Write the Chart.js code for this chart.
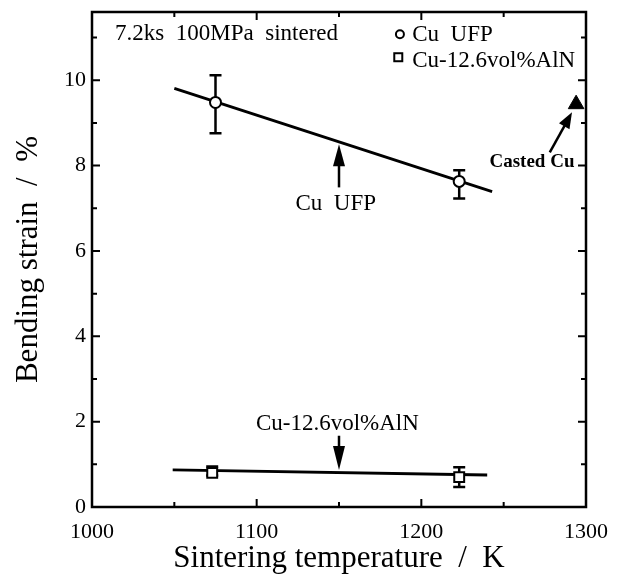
<!DOCTYPE html>
<html>
<head>
<meta charset="utf-8">
<script src="https://cdn.jsdelivr.net/npm/chart.js@4.4.1/dist/chart.umd.min.js"></script>
<style>
  html, body { margin: 0; padding: 0; background: #fff; }
  #wrap { width: 617px; height: 585px; position: relative; }
</style>
</head>
<body>
<div id="wrap"><canvas id="myChart"></canvas></div>
<script>
// bending strain (%) vs sintering temperature (K)
const seriesNames = ['Cu  UFP', 'Cu-12.6vol%AlN', 'Casted Cu'];

const ufpTemp = [1075, 1223];
const ufpStrain = [9.48, 7.63];
const ufpErrLow = [8.76, 7.23];
const ufpErrHigh = [10.12, 7.89];

const alnTemp = [1073, 1223];
const alnStrain = [0.80, 0.70];
const alnErrLow = [0.74, 0.47];
const alnErrHigh = [0.95, 0.93];

// fitted lines, end points
const ufpFitTemp = [1050, 1243];
const ufpFitStrain = [9.81, 7.39];
const alnFitTemp = [1049, 1240];
const alnFitStrain = [0.87, 0.75];

const castTemp = [1294];
const castStrain = [9.44];

const xMajor = [1000, 1100, 1200, 1300];
const xMinor = [1050, 1150, 1250];
const yMajor = [0, 2, 4, 6, 8, 10];
const yMinor = [1, 3, 5, 7, 9, 11];

const FONT = 'Liberation Serif';
Chart.defaults.font.family = FONT;
Chart.defaults.color = '#000';

const toPoints = (xs, ys) => xs.map((x, i) => ({x: x, y: ys[i]}));

// frame with inward ticks on all four sides
const frameTicks = {
    id: 'frameTicks',
    afterDraw(chart) {
        const {ctx, chartArea: a, scales: {x, y}} = chart;
        ctx.save();
        ctx.strokeStyle = '#000';
        ctx.lineWidth = 2.5;
        ctx.strokeRect(a.left, a.top, a.right - a.left, a.bottom - a.top);
        ctx.lineWidth = 2;
        const tick = (vals, len) => {
            vals.forEach(v => {
                const px = x.getPixelForValue(v);
                ctx.beginPath();
                ctx.moveTo(px, a.bottom); ctx.lineTo(px, a.bottom - len);
                ctx.moveTo(px, a.top); ctx.lineTo(px, a.top + len);
                ctx.stroke();
            });
        };
        const tickY = (vals, len) => {
            vals.forEach(v => {
                const py = y.getPixelForValue(v);
                ctx.beginPath();
                ctx.moveTo(a.left, py); ctx.lineTo(a.left + len, py);
                ctx.moveTo(a.right, py); ctx.lineTo(a.right - len, py);
                ctx.stroke();
            });
        };
        tick(xMajor.slice(1, -1), 8);
        tick(xMinor, 5);
        tickY(yMajor.slice(1), 8);
        tickY(yMinor, 5);
        ctx.restore();
    }
};

// vertical error bars under the markers
const errorBars = {
    id: 'errorBars',
    beforeDatasetsDraw(chart) {
        const {ctx, scales: {x, y}} = chart;
        ctx.save();
        ctx.strokeStyle = '#000';
        ctx.lineWidth = 2.5;
        const draw = (xs, lo, hi) => {
            xs.forEach((t, i) => {
                const px = x.getPixelForValue(t);
                const y1 = y.getPixelForValue(lo[i]);
                const y2 = y.getPixelForValue(hi[i]);
                ctx.beginPath();
                ctx.moveTo(px, y1); ctx.lineTo(px, y2);
                ctx.moveTo(px - 6, y1); ctx.lineTo(px + 6, y1);
                ctx.moveTo(px - 6, y2); ctx.lineTo(px + 6, y2);
                ctx.stroke();
            });
        };
        draw(ufpTemp, ufpErrLow, ufpErrHigh);
        draw(alnTemp, alnErrLow, alnErrHigh);
        ctx.restore();
    }
};

function arrow(ctx, x1, y1, x2, y2, head, half) {
    const a = Math.atan2(y2 - y1, x2 - x1);
    const c = Math.cos(a), s = Math.sin(a);
    ctx.beginPath();
    ctx.moveTo(x1, y1);
    ctx.lineTo(x2 - c * head * 0.7, y2 - s * head * 0.7);
    ctx.stroke();
    ctx.beginPath();
    ctx.moveTo(x2, y2);
    ctx.lineTo(x2 - head * c + half * s, y2 - head * s - half * c);
    ctx.lineTo(x2 - head * c - half * s, y2 - head * s + half * c);
    ctx.closePath();
    ctx.fill();
}

// labels, arrows and the small legend, placed in data units
const notes = {
    id: 'notes',
    afterDatasetsDraw(chart) {
        const {ctx, scales: {x, y}} = chart;
        const X = v => x.getPixelForValue(v);
        const Y = v => y.getPixelForValue(v);
        ctx.save();
        ctx.fillStyle = '#000';
        ctx.strokeStyle = '#000';
        ctx.lineWidth = 2.5;

        arrow(ctx, X(1150), Y(7.49), X(1150), Y(8.50), 22, 6);
        arrow(ctx, X(1150), Y(1.67), X(1150), Y(0.87), 24, 6);
        arrow(ctx, X(1278), Y(8.31), X(1291.5), Y(9.25), 16, 6);

        ctx.textBaseline = 'middle';
        ctx.font = '23px "' + FONT + '"';
        ctx.textAlign = 'center';
        ctx.fillText(seriesNames[0], X(1148), Y(7.10));
        ctx.fillText(seriesNames[1], X(1149), Y(1.95));

        ctx.textAlign = 'left';
        ctx.fillText('7.2ks  100MPa  sintered', X(1014), Y(11.08));
        ctx.fillText(seriesNames[0], X(1194.5), Y(11.06));
        ctx.fillText(seriesNames[1], X(1194.5), Y(10.46));

        ctx.lineWidth = 2;
        ctx.beginPath();
        ctx.arc(X(1187), Y(11.08), 4, 0, Math.PI * 2);
        ctx.stroke();
        ctx.strokeRect(X(1186) - 4, Y(10.54) - 4, 8, 8);

        ctx.font = 'bold 19px "' + FONT + '"';
        ctx.textAlign = 'right';
        ctx.fillText(seriesNames[2], X(1293), Y(8.08));
        ctx.restore();
    }
};

const ctx = document.getElementById('myChart').getContext('2d');
const chart = new Chart(ctx, {
    type: 'scatter',
    data: {
        datasets: [{
            label: seriesNames[0],
            data: toPoints(ufpTemp, ufpStrain),
            pointStyle: 'circle',
            pointRadius: 5.5,
            backgroundColor: '#fff',
            borderColor: '#000',
            borderWidth: 2,
            order: 0
        }, {
            label: seriesNames[1],
            data: toPoints(alnTemp, alnStrain),
            pointStyle: 'rect',
            pointRadius: 7,
            backgroundColor: '#fff',
            borderColor: '#000',
            borderWidth: 2,
            order: 0
        }, {
            label: seriesNames[2],
            data: toPoints(castTemp, castStrain),
            pointStyle: 'triangle',
            pointRadius: 9,
            backgroundColor: '#000',
            borderColor: '#000',
            borderWidth: 1,
            order: 0
        }, {
            label: 'fit ' + seriesNames[0],
            data: toPoints(ufpFitTemp, ufpFitStrain),
            showLine: true,
            pointRadius: 0,
            borderColor: '#000',
            borderWidth: 2.8,
            order: 1
        }, {
            label: 'fit ' + seriesNames[1],
            data: toPoints(alnFitTemp, alnFitStrain),
            showLine: true,
            pointRadius: 0,
            borderColor: '#000',
            borderWidth: 2.8,
            order: 1
        }]
    },
    options: {
        responsive: true,
        maintainAspectRatio: false,
        animation: false,
        layout: { padding: { top: 12, right: 31, left: 0, bottom: 0 } },
        plugins: {
            legend: { display: false },
            tooltip: { enabled: false }
        },
        scales: {
            x: {
                type: 'linear',
                min: 1000,
                max: 1300,
                grid: { display: false, drawTicks: false },
                border: { display: false },
                afterBuildTicks: (s) => { s.ticks = xMajor.map(v => ({value: v})); },
                afterFit: (s) => {
                    s.height = 78;
                    s.paddingLeft = 0;
                    s.paddingRight = 0;
                },
                ticks: {
                    font: { size: 22 },
                    padding: 12,
                    maxRotation: 0,
                    autoSkip: false,
                    callback: (v) => String(v)
                },
                title: {
                    display: true,
                    text: 'Sintering temperature  /  K',
                    font: { size: 31 },
                    padding: { top: 0, bottom: 8 }
                }
            },
            y: {
                type: 'linear',
                min: 0,
                max: 11.6,
                grid: { display: false, drawTicks: false },
                border: { display: false },
                afterBuildTicks: (s) => { s.ticks = yMajor.map(v => ({value: v})); },
                afterFit: (s) => {
                    s.width = 92;
                    s.paddingTop = 0;
                    s.paddingBottom = 0;
                },
                ticks: { font: { size: 22 }, padding: 6, autoSkip: false, callback: (v) => String(v) },
                title: {
                    display: true,
                    text: 'Bending strain  /  %',
                    font: { size: 31 },
                    padding: { top: 10, bottom: 0 }
                }
            }
        }
    },
    plugins: [frameTicks, errorBars, notes]
});
</script>
</body>
</html>
